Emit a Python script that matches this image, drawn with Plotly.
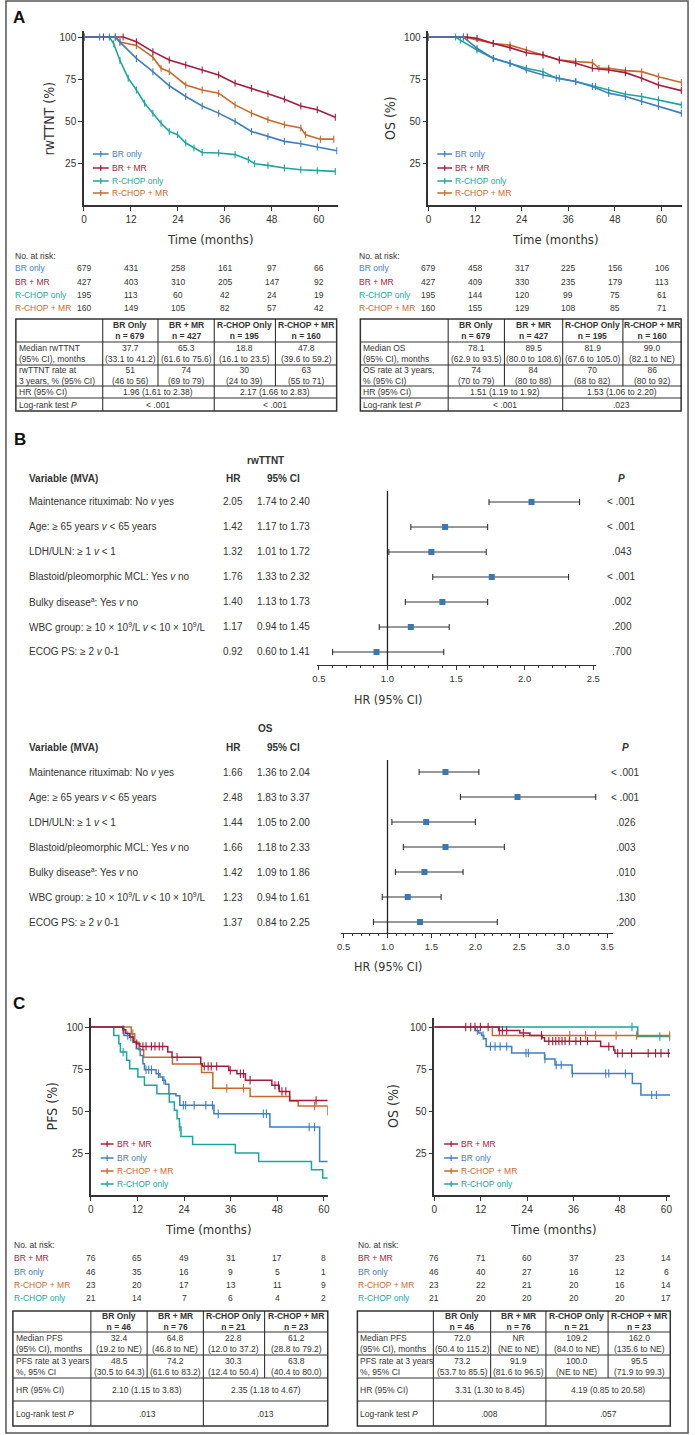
import plotly.graph_objects as go

W, H = 695, 1435

BLUE = "#3f7fbf"
RED = "#a61c3c"
TEAL = "#1aa79b"
ORANGE = "#c7692c"
SQUARE = "#3a78b4"
INK = "#333333"

FONT = "Liberation Sans, Arial, sans-serif"
NARROW = "Liberation Sans Narrow, Arial Narrow, DejaVu Sans Condensed, sans-serif"

# ---------------- data ----------------
risk_times = [0, 12, 24, 36, 48, 60]

# panel A - rwTTNT curves (months, %)
ttnt_br_t = [0, 4, 8, 9.2, 13.4, 17.6, 21.8, 26, 30.2, 34.4, 38.6, 42.8, 47, 51.2, 55.4, 59.6, 64.6]
ttnt_br_s = [100, 100, 100, 97, 87.3, 79.4, 71, 64.6, 59, 54.7, 49.7, 43.8, 40.8, 37.9, 36.5, 34.5, 32.3]
ttnt_brmr_t = [0, 5, 10, 13.4, 17.6, 21.8, 26, 30.2, 34.4, 38.6, 42.8, 47, 51.2, 55.4, 59.6, 64.2]
ttnt_brmr_s = [100, 100, 100, 97.2, 91.3, 86.3, 83.4, 80.4, 77.4, 72.5, 69.5, 66.2, 63, 59, 56.7, 52.3]
ttnt_rc_t = [0, 6.5, 7.6, 9.2, 11.3, 13.4, 15.5, 17.6, 19.7, 21.8, 23.9, 26, 28.1, 30.2, 34.4, 38.6, 42,
             43.6, 47, 51.2, 55.4, 59.6, 64.2]
ttnt_rc_s = [100, 100, 96, 86, 75.5, 68.5, 60.6, 54.7, 48.7, 43.8, 41.8, 36.9, 33.9, 31.3, 31, 30, 27,
             24.6, 23.6, 22, 21, 20.4, 20]
ttnt_rcmr_t = [0, 8, 9.2, 13.4, 17.6, 19.7, 21.8, 26, 30.2, 34.4, 38.6, 42.8, 47, 51.2, 55.4, 56.6, 60.4, 63.8]
ttnt_rcmr_s = [100, 100, 97, 95, 88, 81.4, 79.4, 71.5, 68.5, 66.6, 59.6, 54.7, 50.7, 47.8, 45.8, 41.8, 39.2, 39.2]

# panel A - OS curves
os_br_t = [0, 9, 12.5, 16.7, 21, 25.2, 29.5, 33.7, 37.9, 42.2, 46.4, 50.7, 54.9, 59.2, 65.1]
os_br_s = [100, 100, 93.3, 87.3, 84.4, 80.4, 77.4, 75.5, 73.5, 70.5, 66.6, 64.6, 61.6, 58.6, 54.7]
os_brmr_t = [0, 10, 12.5, 16.7, 21, 25.2, 29.5, 33.7, 37.9, 42.2, 46.4, 50.7, 54.9, 59.2, 65.1]
os_brmr_s = [100, 100, 99.2, 96.2, 93.7, 90.7, 89.3, 86.3, 84.4, 81.4, 80.4, 78.8, 75.5, 71.5, 68.1]
os_rc_t = [0, 7, 8.2, 12.5, 16.7, 21, 25.2, 29.5, 32.9, 37.9, 43, 46.4, 50.7, 54.9, 59.2, 65.1]
os_rc_s = [100, 100, 98.2, 92.3, 87.3, 84.4, 81.4, 79.4, 75.5, 73.5, 70.5, 68.1, 65.9, 64.6, 62.6, 59.6]
os_rcmr_t = [0, 9, 16.7, 21, 25.2, 29.5, 33.7, 37.9, 42.2, 43.9, 46.4, 50.7, 54.9, 59.2, 65.1]
os_rcmr_s = [100, 100, 96.2, 95.2, 92.3, 89.3, 86.3, 85.4, 84.8, 81.4, 81.4, 80, 79.4, 76.4, 72.9]

# at-risk numbers, panel A
ttnt_risk = [[679, 431, 258, 161, 97, 66], [427, 403, 310, 205, 147, 92],
             [195, 113, 60, 42, 24, 19], [160, 149, 105, 82, 57, 42]]
osA_risk = [[679, 458, 317, 225, 156, 106], [427, 409, 330, 235, 179, 113],
            [195, 144, 120, 99, 75, 61], [160, 155, 129, 108, 85, 71]]

# panel C - PFS step curves
pfs_brmr_t = [0, 8.2, 9.0, 10.0, 10.9, 11.7, 12.6, 19.8, 20.9, 28.3, 28.7, 35.5, 37.6, 39.8, 46.6, 48.5, 51.2, 61.0]
pfs_brmr_s = [100, 98.4, 96.1, 94.1, 91.1, 90.1, 88.5, 85.1, 82.1, 78.2, 76.6, 74.2, 72.2, 68.3, 65.3, 61.7, 56.3, 56.3]
pfs_brmr_cens = [8.3, 11.8, 13.4, 14.2, 15.6, 16.5, 17.6, 18.5, 22.2, 29.2, 30.2, 31.0, 32.4, 35.9, 38.5,
                 39.3, 41.0, 47.4, 48.3, 49.2, 50.2, 58.0]
pfs_br_t = [0, 8.5, 10.0, 10.9, 11.7, 12.7, 13.4, 13.8, 16.8, 17.8, 18.5, 19.2, 20.1, 21.9, 22.9, 31.7, 46.1, 58.9, 61.0]
pfs_br_s = [100, 95.0, 94.0, 91.1, 87.1, 83.1, 78.2, 74.6, 72.2, 70.2, 68.3, 65.9, 60.3, 59.1, 53.4, 48.4, 40.5, 20.0, 20.0]
pfs_br_cens = [9.5, 10.3, 14.2, 14.9, 15.6, 17.4, 18.8, 23.8, 24.4, 26.6, 29.6, 31.3, 32.8, 44.4, 45.2, 56.2, 57.6]
pfs_rcmr_t = [0, 10.4, 11.3, 12.4, 13.6, 21.0, 28.5, 31.4, 41.0, 51.2, 53.4, 61.0]
pfs_rcmr_s = [100, 96, 91, 86.5, 82, 78, 73, 63.6, 58.6, 56, 53, 47.4]
pfs_rcmr_cens = [10.8, 35.0, 39.3, 57.6]
pfs_rc_t = [0, 5.9, 7.2, 7.6, 9.2, 10.0, 12.1, 13.8, 17.0, 20.2, 21.5, 22.2, 22.8, 23.2, 26.2, 37.2, 43.2, 56.8,
            59.7, 61.0]
pfs_rc_s = [100, 95.0, 90.1, 85.1, 80.2, 75.2, 70.2, 65.3, 60.3, 55.4, 50.4, 45.4, 40.5, 34.9, 30.0, 25.0, 20.0,
            15.1, 10.1, 10.1]
pfs_rc_cens = [8.3, 22.9]

# panel C - OS step curves
osc_brmr_t = [0, 16.6, 22.1, 24.7, 27.9, 28.5, 43.0, 46.4, 46.7, 61.0]
osc_brmr_s = [100, 98, 96.4, 95, 93.6, 91.6, 88.4, 86.4, 84.4, 84.4]
osc_brmr_cens = [8.1, 9.4, 10.5, 11.9, 13.9, 16.8, 17.6, 18.7, 23.0, 27.7, 29.6, 30.6, 31.4, 32.2, 33.0, 33.8,
                 34.9, 36.6, 37.8, 39.6, 45.1, 47.4, 48.6, 51.0, 55.3, 57.2, 58.6, 60.5]
osc_br_t = [0, 10.6, 11.5, 12.2, 12.8, 13.4, 20.0, 28.5, 31.2, 35.6, 51.2, 53.4, 61.0]
osc_br_s = [100, 98, 96.4, 95, 93, 88.4, 84.6, 81, 77.4, 72.4, 66.4, 59.6, 59.6]
osc_br_cens = [11.1, 12.6, 14.5, 15.7, 17.0, 18.7, 23.7, 24.3, 28.6, 31.5, 32.8, 35.7, 44.3, 45.1, 49.4,
               56.2, 57.4]
osc_rcmr_t = [0, 15.0, 61.0]
osc_rcmr_s = [100, 95, 95]
osc_rcmr_cens = [35.0, 39.1, 41.7, 47.0, 52.3, 60.9]
osc_rc_t = [0, 52.6, 61.0]
osc_rc_s = [100, 94.4, 94.4]
osc_rc_cens = [51.1, 58.3, 60.9]

pfs_risk = [[76, 65, 49, 31, 17, 8], [46, 35, 16, 9, 5, 1], [23, 20, 17, 13, 11, 9], [21, 14, 7, 6, 4, 2]]
osC_risk = [[76, 71, 60, 37, 23, 14], [46, 40, 27, 16, 12, 6], [23, 22, 21, 20, 16, 14], [21, 20, 20, 20, 20, 17]]

# panel B - forest plots
forest_labels = [
    "Maintenance rituximab: No <i>v</i> yes",
    "Age: ≥ 65 years <i>v</i> &lt; 65 years",
    "LDH/ULN: ≥ 1 <i>v</i> &lt; 1",
    "Blastoid/pleomorphic MCL: Yes <i>v</i> no",
    "Bulky disease<sup>a</sup>: Yes <i>v</i> no",
    "WBC group: ≥ 10 × 10<sup>9</sup>/L <i>v</i> &lt; 10 × 10<sup>9</sup>/L",
    "ECOG PS: ≥ 2 <i>v</i> 0-1",
]
ttnt_hr = [2.05, 1.42, 1.32, 1.76, 1.40, 1.17, 0.92]
ttnt_lo = [1.74, 1.17, 1.01, 1.33, 1.13, 0.94, 0.60]
ttnt_hi = [2.40, 1.73, 1.72, 2.32, 1.73, 1.45, 1.41]
ttnt_p = ["&lt; .001", "&lt; .001", ".043", "&lt; .001", ".002", ".200", ".700"]
os_hr = [1.66, 2.48, 1.44, 1.66, 1.42, 1.23, 1.37]
os_lo = [1.36, 1.83, 1.05, 1.18, 1.09, 0.94, 0.84]
os_hi = [2.04, 3.37, 2.00, 2.33, 1.86, 1.61, 2.25]
os_p = ["&lt; .001", "&lt; .001", ".026", ".003", ".010", ".130", ".200"]

# tables
tabA_header = ["BR Only<br>n = 679", "BR + MR<br>n = 427", "R-CHOP Only<br>n = 195", "R-CHOP + MR<br>n = 160"]
tabC_header = ["BR Only<br>n = 46", "BR + MR<br>n = 76", "R-CHOP Only<br>n = 21", "R-CHOP + MR<br>n = 23"]

tab1_rows = ["Median rwTTNT<br>(95% CI), months", "rwTTNT rate at<br>3 years, % (95% CI)",
             "HR (95% CI)", "Log-rank test <i>P</i>"]
tab1_cells = [["37.7<br>(33.1 to 41.2)", "65.3<br>(61.6 to 75.6)", "18.8<br>(16.1 to 23.5)", "47.8<br>(39.6 to 59.2)"],
              ["51<br>(46 to 56)", "74<br>(69 to 79)", "30<br>(24 to 39)", "63<br>(55 to 71)"]]
tab1_merged = [["1.96 (1.61 to 2.38)", "2.17 (1.66 to 2.83)"], ["&lt; .001", "&lt; .001"]]

tab2_rows = ["Median OS<br>(95% CI), months", "OS rate at 3 years,<br>% (95% CI)",
             "HR (95% CI)", "Log-rank test <i>P</i>"]
tab2_cells = [["78.1<br>(62.9 to 93.5)", "89.5<br>(80.0 to 108.6)", "81.9<br>(67.6 to 105.0)", "99.0<br>(82.1 to NE)"],
              ["74<br>(70 to 79)", "84<br>(80 to 88)", "70<br>(68 to 82)", "86<br>(80 to 92)"]]
tab2_merged = [["1.51 (1.19 to 1.92)", "1.53 (1.06 to 2.20)"], ["&lt; .001", ".023"]]

tab3_rows = ["Median PFS<br>(95% CI), months", "PFS rate at 3 years<br>%, 95% CI",
             "HR (95% CI)", "Log-rank test <i>P</i>"]
tab3_cells = [["32.4<br>(19.2 to NE)", "64.8<br>(46.8 to NE)", "22.8<br>(12.0 to 37.2)", "61.2<br>(28.8 to 79.2)"],
              ["48.5<br>(30.5 to 64.3)", "74.2<br>(61.6 to 83.2)", "30.3<br>(12.4 to 50.4)", "63.8<br>(40.4 to 80.0)"]]
tab3_merged = [["2.10 (1.15 to 3.83)", "2.35 (1.18 to 4.67)"], [".013", ".013"]]

tab4_cells = [["72.0<br>(50.4 to 115.2)", "NR<br>(NE to NE)", "109.2<br>(84.0 to NE)", "162.0<br>(135.6 to NE)"],
              ["73.2<br>(53.7 to 85.5)", "91.9<br>(81.6 to 96.5)", "100.0<br>(NE to NE)", "95.5<br>(71.9 to 99.3)"]]
tab4_merged = [["3.31 (1.30 to 8.45)", "4.19 (0.85 to 20.58)"], [".008", ".057"]]


# ---------------- helpers ----------------
def px(x):
    return x / W


def py(y):
    return 1 - y / H


fig = go.Figure()
shapes = []
annos = []
TICKFONT = dict(family=FONT, size=10, color=INK)


def note(x, y, s, size=8.5, color=INK, xa="center", ya="middle", family=FONT, xref="paper", yref="paper",
         angle=0):
    annos.append(dict(x=x, y=y, xref=xref, yref=yref, text=s, showarrow=False, xanchor=xa, yanchor=ya,
                      align="left" if xa == "left" else "center", textangle=angle,
                      font=dict(family=family, size=size, color=color)))


def hline(x0, x1, y, color=INK, width=1.2):
    shapes.append(dict(type="line", xref="paper", yref="paper", x0=px(x0), x1=px(x1), y0=py(y), y1=py(y),
                       line=dict(color=color, width=width)))


def vline(x, y0, y1, color=INK, width=1.2):
    shapes.append(dict(type="line", xref="paper", yref="paper", x0=px(x), x1=px(x), y0=py(y0), y1=py(y1),
                       line=dict(color=color, width=width)))


def km_axes(k, left, right, top, bottom, xmax, ymax):
    sx = "" if k == 1 else str(k)
    fig.update_layout(**{
        "xaxis" + sx: dict(domain=[px(left), px(right)], range=[0, xmax], anchor="y" + sx, tickvals=risk_times,
                           ticks="outside", ticklen=4, tickwidth=1.2, tickcolor=INK, showline=True, linecolor=INK,
                           linewidth=1.5, showgrid=False, zeroline=False, tickfont=TICKFONT),
        "yaxis" + sx: dict(domain=[py(bottom), py(top)], range=[0, ymax], anchor="x" + sx,
                           tickvals=[25, 50, 75, 100], ticks="outside", ticklen=4, tickwidth=1.2, tickcolor=INK,
                           showline=True, linecolor=INK, linewidth=1.5, showgrid=False, zeroline=False,
                           tickfont=TICKFONT),
    })


def step_at(t_list, s_list, t):
    val = s_list[0]
    for ti, si in zip(t_list, s_list):
        if ti <= t:
            val = si
    return val


def km_smooth(k, curves):
    ax = "" if k == 1 else str(k)
    for t, s, c in curves:
        fig.add_trace(go.Scatter(x=t, y=s, mode="lines+markers", xaxis="x" + ax, yaxis="y" + ax,
                                 line=dict(color=c, width=1.6),
                                 marker=dict(symbol="line-ns", size=5, line=dict(color=c, width=1.1)),
                                 hoverinfo="skip"))


def km_step(k, curves):
    ax = "" if k == 1 else str(k)
    for t, s, cens, c in curves:
        fig.add_trace(go.Scatter(x=t, y=s, mode="lines", line_shape="hv", xaxis="x" + ax, yaxis="y" + ax,
                                 line=dict(color=c, width=1.5), hoverinfo="skip"))
        fig.add_trace(go.Scatter(x=cens, y=[step_at(t, s, ct) for ct in cens], mode="markers",
                                 xaxis="x" + ax, yaxis="y" + ax,
                                 marker=dict(symbol="line-ns", size=6, line=dict(color=c, width=1.1)),
                                 hoverinfo="skip"))


def at_risk(k, label_x, labels, colors, rows, y_title, y_rows):
    ax = "" if k == 1 else str(k)
    note(px(label_x), py(y_title), "No. at risk:", xa="left")
    for lab, col, vals, yy in zip(labels, colors, rows, y_rows):
        note(px(label_x), py(yy), lab, color=col, xa="left")
        for t, v in zip(risk_times, vals):
            note(t, py(yy), str(v), xref="x" + ax)


def legend(x0, x1, ys, labels, colors):
    for y, lab, col in zip(ys, labels, colors):
        hline(x0, x1, y, col, 1.5)
        vline((x0 + x1) / 2, y - 3, y + 3, col, 1.2)
        note(px(x1 + 1), py(y), lab, color=col, xa="left")


def table(xe, ye, header, row_labels, cells, merged):
    shapes.append(dict(type="rect", xref="paper", yref="paper", x0=px(xe[0]), x1=px(xe[-1]),
                       y0=py(ye[-1]), y1=py(ye[0]), line=dict(color=INK, width=1.5)))
    for y in ye[1:-1]:
        hline(xe[0], xe[-1], y, INK, 1.1)
    for j, x in enumerate(xe[1:-1], start=1):
        bottom = ye[-1] if j in (1, 3) else ye[3]
        vline(x, ye[0], bottom, INK, 1.1)
    mid = lambda a, b: (a + b) / 2
    for j, h in enumerate(header):
        note(px(mid(xe[j + 1], xe[j + 2])), py(mid(ye[0], ye[1])), "<b>%s</b>" % h)
    for i, lab in enumerate(row_labels):
        parts = lab.split("<br>")
        yc = mid(ye[i + 1], ye[i + 2])
        for n, part in enumerate(parts):
            note(px(xe[0] + 1), py(yc + (n - (len(parts) - 1) / 2) * 10.5), part, xa="left")
    for i, row in enumerate(cells):
        for j, c in enumerate(row):
            note(px(mid(xe[j + 1], xe[j + 2])), py(mid(ye[i + 1], ye[i + 2])), c)
    for i, (a, b) in enumerate(merged):
        note(px(mid(xe[1], xe[3])), py(mid(ye[i + 3], ye[i + 4])), a)
        note(px(mid(xe[3], xe[5])), py(mid(ye[i + 3], ye[i + 4])), b)


def forest(k, title, hr, lo, hi, pvals, left, right, xmin, xmax, top, bottom, ymax, title_y, head_y, ref_top, p_x):
    ax = str(k)
    fig.update_layout(**{
        "xaxis" + ax: dict(domain=[px(left), px(right)], range=[xmin, xmax], anchor="y" + ax, tick0=0, dtick=0.5,
                           tickformat=".1f", ticks="outside", ticklen=4, tickwidth=1.2, tickcolor=INK,
                           showline=True, linecolor=INK, linewidth=1.3, showgrid=False, zeroline=False,
                           tickfont=dict(family=FONT, size=9.5, color=INK),
                           minor=dict(dtick=0.1, ticks="outside", ticklen=2, tickcolor=INK, showgrid=False)),
        "yaxis" + ax: dict(domain=[py(bottom), py(top)], range=[ymax, -0.6], anchor="x" + ax, visible=False),
    })
    rows = list(range(len(hr)))
    shapes.append(dict(type="line", xref="x" + ax, yref="paper", x0=1, x1=1, y0=py(bottom), y1=py(ref_top),
                       line=dict(color="#222", width=1.3)))
    fig.add_trace(go.Scatter(
        x=hr, y=rows, mode="markers", xaxis="x" + ax, yaxis="y" + ax,
        marker=dict(symbol="square", size=6, color=SQUARE),
        error_x=dict(type="data", array=[h - v for h, v in zip(hi, hr)],
                     arrayminus=[v - l for v, l in zip(hr, lo)], color=INK, thickness=1.1, width=3),
        hoverinfo="skip"))
    note(px(264), py(title_y), "<b>%s</b>" % title, size=10)
    note(px(22), py(head_y), "<b>Variable (MVA)</b>", size=10, xa="left")
    note(px(231), py(head_y), "<b>HR</b>", size=10)
    note(px(282), py(head_y), "<b>95% CI</b>", size=10)
    note(px(p_x), py(head_y), "<b><i>P</i></b>", size=10)
    for i, (lab, h, l, u, p) in enumerate(zip(forest_labels, hr, lo, hi, pvals)):
        note(px(22), i, lab, size=10, xa="left", yref="y" + ax)
        note(px(231), i, "%.2f" % h, size=10, yref="y" + ax)
        note(px(282), i, "%.2f to %.2f" % (l, u), size=10, yref="y" + ax)
        note(px(p_x), i, p, size=10, yref="y" + ax)
    note(px(388), py(bottom + 34), "HR (95% CI)", size=12.5, family=NARROW)


# ---------------- panel A ----------------
labels_a = ["BR only", "BR + MR", "R-CHOP only", "R-CHOP + MR"]
colors_a = [BLUE, RED, TEAL, ORANGE]

km_axes(1, 80, 337, 31, 205, 64.8, 103.6)
km_axes(2, 429, 686, 31, 205, 65.3, 103.6)
km_smooth(1, [(ttnt_rc_t, ttnt_rc_s, TEAL), (ttnt_rcmr_t, ttnt_rcmr_s, ORANGE),
              (ttnt_brmr_t, ttnt_brmr_s, RED), (ttnt_br_t, ttnt_br_s, BLUE)])
km_smooth(2, [(os_rc_t, os_rc_s, TEAL), (os_rcmr_t, os_rcmr_s, ORANGE),
              (os_brmr_t, os_brmr_s, RED), (os_br_t, os_br_s, BLUE)])
legend(89, 105, [154, 168, 181, 193], labels_a, colors_a)
legend(438, 453, [154, 168, 181, 193], labels_a, colors_a)
note(px(45), py(118), "rwTTNT (%)", size=14, family=NARROW, angle=-90)
note(px(390), py(118), "OS (%)", size=14, family=NARROW, angle=-90)
note(px(208), py(239), "Time (months)", size=13, family=NARROW)
note(px(557), py(239), "Time (months)", size=13, family=NARROW)
at_risk(1, 8, labels_a, colors_a, ttnt_risk, 256, [268, 282, 295, 308])
at_risk(2, 357, labels_a, colors_a, osA_risk, 256, [268, 282, 295, 308])
table([11, 99, 155, 212, 274, 336], [319, 342, 365, 386, 398, 411], tabA_header, tab1_rows, tab1_cells, tab1_merged)
table([360, 449, 506, 565, 626, 685], [319, 342, 365, 386, 398, 411], tabA_header, tab2_rows, tab2_cells, tab2_merged)

# ---------------- panel B ----------------
forest(3, "rwTTNT", ttnt_hr, ttnt_lo, ttnt_hi, ttnt_p, 316, 599, 0.4856, 2.5216, 487, 665, 6.52, 460, 478, 491, 625)
forest(4, "OS", os_hr, os_lo, os_hi, os_p, 340, 616, 0.466, 3.567, 757, 933, 6.44, 728, 747, 760, 629)

# ---------------- panel C ----------------
labels_c = ["BR + MR", "BR only", "R-CHOP + MR", "R-CHOP only"]
colors_c = [RED, BLUE, ORANGE, TEAL]

km_axes(5, 87, 327, 1018, 1195, 61.0, 105.4)
km_axes(6, 435, 674, 1018, 1195, 61.0, 105.4)
km_step(5, [(pfs_rc_t, pfs_rc_s, pfs_rc_cens, TEAL), (pfs_rcmr_t, pfs_rcmr_s, pfs_rcmr_cens, ORANGE),
            (pfs_br_t, pfs_br_s, pfs_br_cens, BLUE), (pfs_brmr_t, pfs_brmr_s, pfs_brmr_cens, RED)])
km_step(6, [(osc_rc_t, osc_rc_s, osc_rc_cens, TEAL), (osc_rcmr_t, osc_rcmr_s, osc_rcmr_cens, ORANGE),
            (osc_br_t, osc_br_s, osc_br_cens, BLUE), (osc_brmr_t, osc_brmr_s, osc_brmr_cens, RED)])
legend(97, 110, [1144, 1158, 1171, 1184], labels_c, colors_c)
legend(445, 459, [1144, 1158, 1171, 1184], labels_c, colors_c)
note(px(48), py(1106), "PFS (%)", size=14, family=NARROW, angle=-90)
note(px(393), py(1106), "OS (%)", size=14, family=NARROW, angle=-90)
note(px(206), py(1229), "Time (months)", size=13, family=NARROW)
note(px(555), py(1229), "Time (months)", size=13, family=NARROW)
at_risk(5, 7, labels_c, colors_c, pfs_risk, 1245, [1258, 1272, 1285, 1298])
at_risk(6, 356, labels_c, colors_c, osC_risk, 1245, [1258, 1272, 1285, 1298])
ye_c = [1311, 1332, 1355, 1378, 1401, 1426]
table([8, 87, 144, 201, 263, 327], ye_c, tabC_header, tab3_rows, tab3_cells, tab3_merged)
table([357, 434, 492, 548, 611, 674], ye_c, tabC_header, tab3_rows, tab4_cells, tab4_merged)

# panel letters and frame
note(px(14), py(18), "<b>A</b>", size=17, color="#111")
note(px(15), py(440), "<b>B</b>", size=17, color="#111")
note(px(14), py(1003), "<b>C</b>", size=17, color="#111")
shapes.append(dict(type="rect", xref="paper", yref="paper", x0=px(1), x1=px(692), y0=py(1433), y1=py(1),
                   line=dict(color="#555", width=1.5)))

fig.update_layout(width=W, height=H, margin=dict(l=0, r=0, t=0, b=0), paper_bgcolor="white",
                  plot_bgcolor="white", showlegend=False, shapes=shapes, annotations=annos,
                  font=dict(family=FONT, color=INK))

fig.write_html("out.html", config={"displayModeBar": False},
               post_script="document.body.style.margin='0';")
